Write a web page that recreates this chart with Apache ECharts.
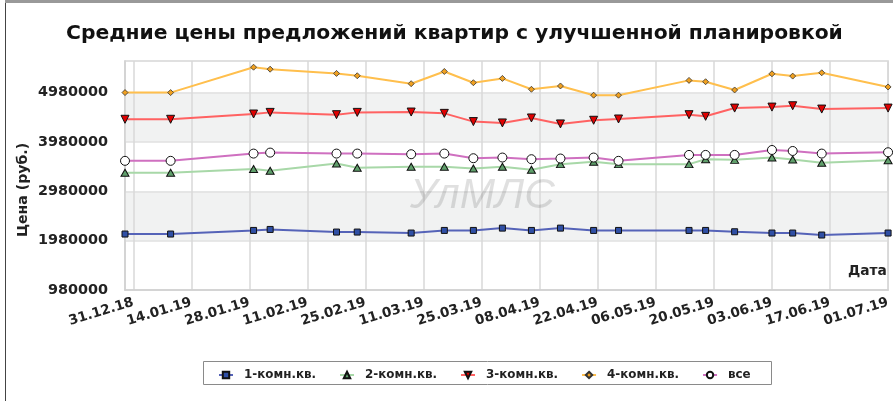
<!DOCTYPE html>
<html>
<head>
<meta charset="utf-8">
<script src="https://cdn.jsdelivr.net/npm/echarts@6/dist/echarts.min.js"></script>
<style>
html,body{margin:0;padding:0;background:#fff;}
#chart{width:893px;height:401px;}
</style>
</head>
<body>
<div id="chart"></div>
<script>
// ---- data ----
const titleText = 'Средние цены предложений квартир с улучшенной планировкой';
const axisStart = '29.12.18';
const axisEnd = '01.07.19';
const tickLabels = ['31.12.18','14.01.19','28.01.19','11.02.19','25.02.19','11.03.19','25.03.19','08.04.19','22.04.19','06.05.19','20.05.19','03.06.19','17.06.19','01.07.19'];
const yTicks = [980000, 1980000, 2980000, 3980000, 4980000];
const dates = ['29.12.18','09.01.19','29.01.19','02.02.19','18.02.19','23.02.19','08.03.19','16.03.19','23.03.19','30.03.19','06.04.19','13.04.19','21.04.19','27.04.19','14.05.19','18.05.19','25.05.19','03.06.19','08.06.19','15.06.19','01.07.19'];
const room1 = [2114000,2114000,2187000,2207000,2154000,2154000,2134000,2187000,2187000,2234000,2187000,2234000,2187000,2187000,2187000,2187000,2160000,2134000,2134000,2094000,2134000];
const room2 = [3356000,3356000,3430000,3397000,3544000,3457000,3477000,3477000,3443000,3477000,3417000,3530000,3577000,3530000,3530000,3630000,3617000,3664000,3624000,3557000,3610000];
const room3 = [4439000,4439000,4546000,4579000,4532000,4579000,4586000,4559000,4392000,4365000,4466000,4345000,4419000,4445000,4532000,4499000,4666000,4686000,4713000,4646000,4666000];
const room4 = [4980000,4980000,5494000,5454000,5368000,5321000,5160000,5408000,5180000,5267000,5047000,5114000,4927000,4927000,5227000,5200000,5033000,5361000,5314000,5381000,5094000];
const roomAll = [3597000,3597000,3744000,3764000,3744000,3744000,3731000,3744000,3650000,3664000,3630000,3644000,3664000,3597000,3717000,3717000,3717000,3817000,3797000,3744000,3771000];
const seriesNames = ['1-комн.кв.','2-комн.кв.','3-комн.кв.','4-комн.кв.','все'];
const yName = 'Цена (руб.)';
const xName = 'Дата';
const watermark = 'УлМЛС';

// ---- helpers ----
function parseD(s){const p=s.split('.');return Date.UTC(2000+ +p[2], +p[1]-1, +p[0]);}
function fmtD(t){const d=new Date(t);const dd=String(d.getUTCDate()).padStart(2,'0');const mm=String(d.getUTCMonth()+1).padStart(2,'0');const yy=String(d.getUTCFullYear()%100).padStart(2,'0');return dd+'.'+mm+'.'+yy;}
const days=[];
for(let t=parseD(axisStart);t<=parseD(axisEnd);t+=86400000){days.push(fmtD(t));}
const tickSet=new Set(tickLabels);
const isTick=(i,v)=>tickSet.has(v);
const pair=(arr)=>dates.map((d,i)=>[d,arr[i]]);

const FONT='DejaVu Sans';
const mctx=document.createElement('canvas').getContext('2d');
function fit(text,family,weight,style,target){
  mctx.font=style+' '+weight+' 100px "'+family+'"';
  const w=mctx.measureText(text).width;
  return Math.round(1000*target/w)/10;
}
const titleSize=fit(titleText,FONT,'bold','normal',779);
const yLabSize=fit('4980000',FONT,'bold','normal',70);
const xLabSize=fit('31.12.18',FONT,'bold','normal',67);
const legSize=fit('1-комн.кв.',FONT,'bold','normal',72);
const yNameSize=fit(yName,FONT,'bold','normal',94);
const xNameSize=fit(xName,FONT,'bold','normal',39);
const wmSize=fit(watermark,'Liberation Sans','normal','italic',145);

const chart=echarts.init(document.getElementById('chart'),null,{renderer:'canvas'});
const base={type:'line',showSymbol:true,showAllSymbol:true,symbolKeepAspect:true,animation:false,z:3};
chart.setOption({
  animation:false,
  backgroundColor:'#fff',
  title:{text:titleText,left:66,top:24,padding:0,textStyle:{fontFamily:FONT,fontWeight:'bold',fontSize:titleSize,color:'#111'}},
  grid:{left:125,top:61,right:0,height:229,show:true,borderColor:'#d6d6d6',borderWidth:1.5,backgroundColor:'transparent'},
  legend:{
    left:203,top:361,padding:[8,20,8,15],itemGap:23,itemWidth:14,itemHeight:8,z:10,
    borderWidth:0,backgroundColor:'transparent',
    textStyle:{fontFamily:FONT,fontWeight:'bold',fontSize:legSize,color:'#222',padding:[0,0,0,6]},
    data:seriesNames
  },
  xAxis:{
    type:'category',data:days,boundaryGap:false,
    axisLine:{show:true,lineStyle:{color:'#d0d0d0',width:1.5}},
    axisTick:{show:false},
    splitLine:{show:true,interval:isTick,lineStyle:{color:'#d9d9d9',width:1.5}},
    axisLabel:{interval:isTick,rotate:17,margin:12,fontFamily:FONT,fontWeight:'bold',fontSize:xLabSize,color:'#222'}
  },
  yAxis:{
    type:'value',min:980000,max:5620000,interval:1000000,
    axisLine:{show:true,lineStyle:{color:'#d0d0d0',width:1.5}},
    axisTick:{show:false},
    axisLabel:{showMaxLabel:false,margin:17,fontFamily:FONT,fontWeight:'bold',fontSize:yLabSize,color:'#222',formatter:(v)=>yTicks.includes(v)?String(v):''},
    splitLine:{show:true,lineStyle:{color:'#e0e0e0',width:1.5}},
    splitArea:{show:true,areaStyle:{color:['rgba(255,255,255,0)','#f1f2f2']}}
  },
  graphic:[
    {type:'line',shape:{x1:5.5,y1:2,x2:5.5,y2:401},style:{stroke:'#444',lineWidth:1},silent:true},
    {type:'line',shape:{x1:5,y1:1.5,x2:893,y2:1.5},style:{stroke:'#999',lineWidth:3},silent:true},
    {type:'rect',z:0,shape:{x:203.5,y:361.5,width:568,height:23},style:{fill:'#fff',stroke:'#8a8a8a',lineWidth:1},silent:true},
    {type:'text',left:410,top:175,z:1,silent:true,style:{text:watermark,fontFamily:'Liberation Sans',fontStyle:'italic',fontSize:wmSize,fill:'rgba(0,0,0,0.12)'}},
    {type:'text',x:23,y:190,rotation:Math.PI/2,silent:true,style:{text:yName,fontFamily:FONT,fontWeight:'bold',fontSize:yNameSize,fill:'#222',align:'center',verticalAlign:'middle'}},
    {type:'text',left:848,top:264,silent:true,style:{text:xName,fontFamily:FONT,fontWeight:'bold',fontSize:xNameSize,fill:'#222'}}
  ],
  series:[
    Object.assign({},base,{name:seriesNames[0],data:pair(room1),symbol:'rect',symbolSize:6,
      lineStyle:{color:'#5563b8',width:2},itemStyle:{color:'#2f4fa5',borderColor:'#111',borderWidth:1}}),
    Object.assign({},base,{name:seriesNames[1],data:pair(room2),symbol:'triangle',symbolSize:[8,7],
      lineStyle:{color:'#a8d8a8',width:2},itemStyle:{color:'#5f9f6b',borderColor:'#111',borderWidth:1}}),
    Object.assign({},base,{name:seriesNames[2],data:pair(room3),symbol:'triangle',symbolRotate:180,symbolSize:[8,8],
      lineStyle:{color:'#ff6262',width:2},itemStyle:{color:'#e00000',borderColor:'#111',borderWidth:1}}),
    Object.assign({},base,{name:seriesNames[3],data:pair(room4),symbol:'diamond',symbolSize:6,
      lineStyle:{color:'#ffbf4d',width:2},itemStyle:{color:'#f0a020',borderColor:'#333',borderWidth:0.8}}),
    Object.assign({},base,{name:seriesNames[4],data:pair(roomAll),symbol:'circle',symbolSize:9,
      lineStyle:{color:'#cf70c0',width:2},itemStyle:{color:'#fff',borderColor:'#111',borderWidth:1}})
  ]
});
</script>
</body>
</html>
